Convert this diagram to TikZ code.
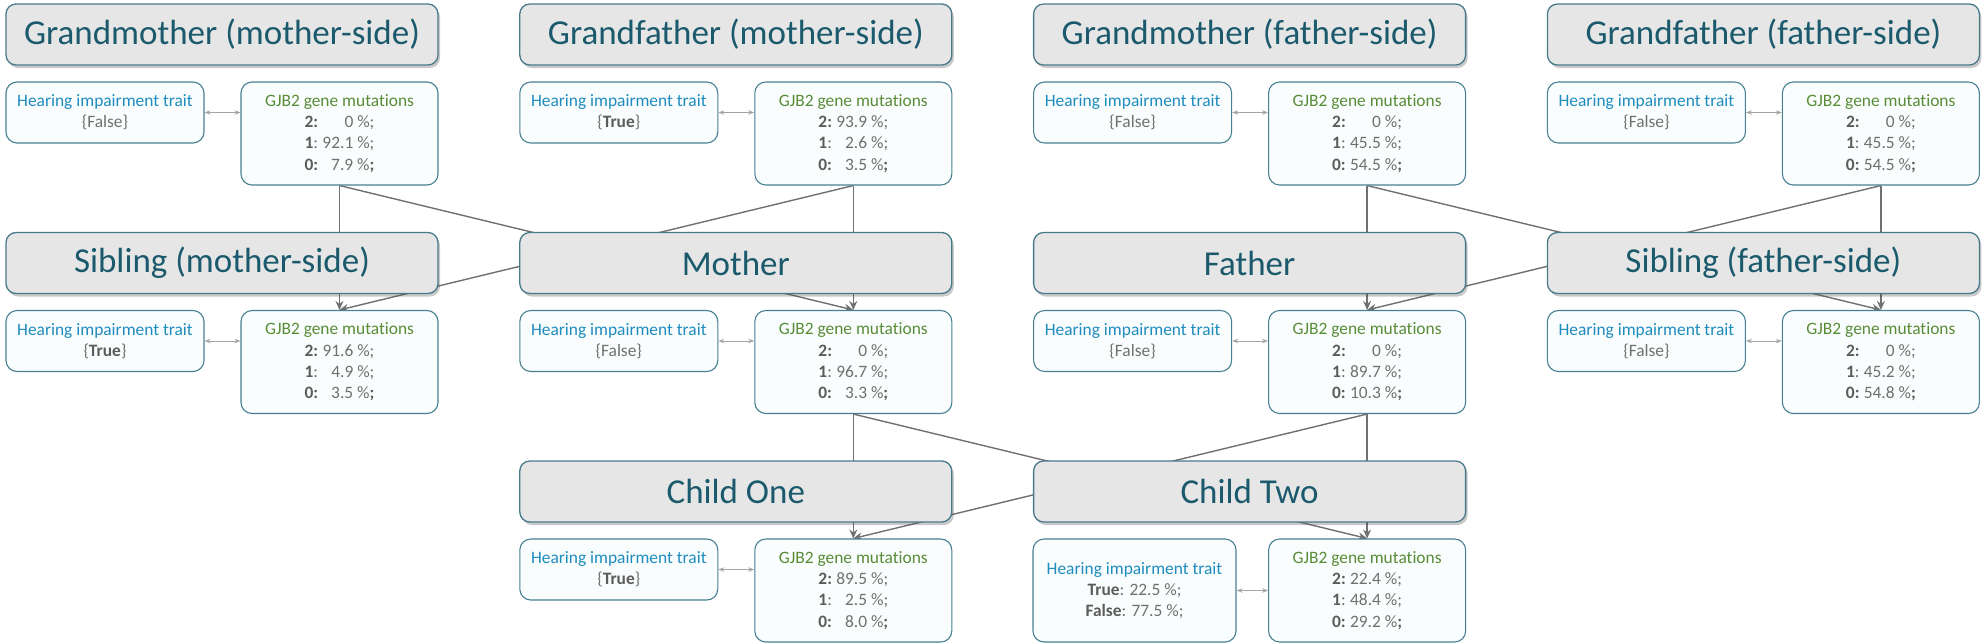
\documentclass[tikz,border=0pt]{standalone}
\usepackage{fontspec}
\setmainfont[Ligatures=NoCommon]{Carlito}
\usetikzlibrary{arrows.meta,shadows}
\pgfdeclarelayer{bg}
\pgfsetlayers{bg,main}

\definecolor{hdrfill}{RGB}{230,230,230}
\definecolor{hdrdraw}{RGB}{72,122,138}
\definecolor{hdrtext}{RGB}{27,90,108}
\definecolor{boxdraw}{RGB}{70,128,145}
\definecolor{boxfill}{RGB}{250,253,253}
\definecolor{hitext}{RGB}{30,140,190}
\definecolor{gjbtext}{RGB}{88,140,55}
\definecolor{valtext}{RGB}{112,112,112}
\definecolor{labtext}{RGB}{92,92,92}
\definecolor{edgecol}{RGB}{112,112,112}
\definecolor{dblcol}{RGB}{165,165,165}

\newcommand{\lab}[1]{{\color{labtext}\bfseries #1}}
\newcommand{\GJB}[3]{{\color{gjbtext}GJB2 gene mutations}\\
\makebox[0.95em][l]{\lab{2:}}\makebox[1.85em][r]{#1}~\%;\\
\makebox[0.95em][l]{\lab{1}:}\makebox[1.85em][r]{#2}~\%;\\
\makebox[0.95em][l]{\lab{0:}}\makebox[1.85em][r]{#3}~\%\lab{;}}
\newcommand{\HIT}[1]{{\color{hitext}Hearing impairment trait}\\ #1}
\newcommand{\FalseV}{\{False\}}
\newcommand{\TrueV}{\{\lab{True}\}}

\tikzset{
  hdr/.style={draw=hdrdraw, line width=1.3pt, fill=hdrfill, rounded corners=10pt,
    minimum width=432pt, minimum height=61pt, inner sep=0pt, text=hdrtext,
    font=\fontsize{35}{42}\selectfont,
    drop shadow={shadow xshift=2pt, shadow yshift=-3pt, opacity=0.3, fill=black!70}},
  ibox/.style={draw=boxdraw, line width=1.1pt, fill=boxfill, rounded corners=11pt,
    inner sep=0pt, align=center, text=valtext, font=\fontsize{17.4}{21.3}\selectfont},
  hibox/.style={ibox, minimum width=198pt, minimum height=61pt},
  gjbox/.style={ibox, minimum width=197pt, minimum height=103pt},
  link/.style={draw=edgecol, line width=1.4pt, -{Stealth[length=9pt,width=8pt,inset=3pt]}},
  dbl/.style={draw=dblcol, line width=0.9pt,
    {Stealth[length=6pt,width=4.5pt,inset=2pt]}-{Stealth[length=6pt,width=4.5pt,inset=2pt]}}
}

\begin{document}
\begin{tikzpicture}[x=1pt,y=-1pt]
\useasboundingbox (0,0) rectangle (1986,643);

% Row 1
\node[hdr] (gmm) at (222,34.5) {Grandmother (mother-side)};
\node[hibox] (gmmH) at (105,112.5) {\HIT{\FalseV}};
\node[gjbox] (gmmG) at (339.5,133.5) {\GJB{0}{92.1}{7.9}};

\node[hdr] (gfm) at (735.8,34.5) {Grandfather (mother-side)};
\node[hibox] (gfmH) at (618.8,112.5) {\HIT{\TrueV}};
\node[gjbox] (gfmG) at (853.3,133.5) {\GJB{93.9}{2.6}{3.5}};

\node[hdr] (gmf) at (1249.6,34.5) {Grandmother (father-side)};
\node[hibox] (gmfH) at (1132.6,112.5) {\HIT{\FalseV}};
\node[gjbox] (gmfG) at (1367.1,133.5) {\GJB{0}{45.5}{54.5}};

\node[hdr] (gff) at (1763.4,34.5) {Grandfather (father-side)};
\node[hibox] (gffH) at (1646.4,112.5) {\HIT{\FalseV}};
\node[gjbox] (gffG) at (1880.9,133.5) {\GJB{0}{45.5}{54.5}};

% Row 2
\node[hdr] (sibm) at (222,263) {Sibling (mother-side)};
\node[hibox] (sibmH) at (105,341) {\HIT{\TrueV}};
\node[gjbox] (sibmG) at (339.5,362) {\GJB{91.6}{4.9}{3.5}};

\node[hdr] (mot) at (735.8,263) {Mother};
\node[hibox] (motH) at (618.8,341) {\HIT{\FalseV}};
\node[gjbox] (motG) at (853.3,362) {\GJB{0}{96.7}{3.3}};

\node[hdr] (fat) at (1249.6,263) {Father};
\node[hibox] (fatH) at (1132.6,341) {\HIT{\FalseV}};
\node[gjbox] (fatG) at (1367.1,362) {\GJB{0}{89.7}{10.3}};

\node[hdr] (sibf) at (1763.4,263) {Sibling (father-side)};
\node[hibox] (sibfH) at (1646.4,341) {\HIT{\FalseV}};
\node[gjbox] (sibfG) at (1880.9,362) {\GJB{0}{45.2}{54.8}};

% Row 3
\node[hdr] (c1) at (735.8,491.5) {Child One};
\node[hibox] (c1H) at (618.8,569.5) {\HIT{\TrueV}};
\node[gjbox] (c1G) at (853.3,590.5) {\GJB{89.5}{2.5}{8.0}};

\node[hdr] (c2) at (1249.6,491.5) {Child Two};
\node[ibox, minimum width=203pt, minimum height=103pt] (c2H) at (1134.5,590.5)
  {\HIT{\lab{True}: 22.5~\%;\\ \lab{False}: 77.5~\%;}};
\node[gjbox] (c2G) at (1367.1,590.5) {\GJB{22.4}{48.4}{29.2}};

\begin{pgfonlayer}{bg}
  \draw[link] (gmmG.south) -- (sibmG.north);
  \draw[link] (gmmG.south) -- (motG.north);
  \draw[link] (gfmG.south) -- (sibmG.north);
  \draw[link] (gfmG.south) -- (motG.north);
  \draw[link] (gmfG.south) -- (fatG.north);
  \draw[link] (gmfG.south) -- (sibfG.north);
  \draw[link] (gffG.south) -- (fatG.north);
  \draw[link] (gffG.south) -- (sibfG.north);
  \draw[link] (motG.south) -- (c1G.north);
  \draw[link] (motG.south) -- (c2G.north);
  \draw[link] (fatG.south) -- (c1G.north);
  \draw[link] (fatG.south) -- (c2G.north);
\end{pgfonlayer}

\foreach \p in {gmm,gfm,gmf,gff,sibm,mot,fat,sibf,c1,c2}
  \draw[dbl] (\p H.east) -- (\p H.east -| \p G.west);
\end{tikzpicture}
\end{document}
